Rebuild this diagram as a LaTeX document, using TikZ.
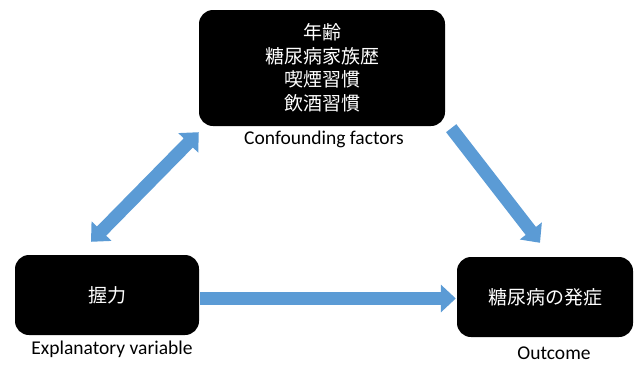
\documentclass[tikz,border=0pt]{standalone}
\usepackage{fontspec}
\setsansfont{Carlito}
\newfontfamily\jpfont{Noto Sans CJK JP}
\usetikzlibrary{arrows.meta}
\definecolor{arrowblue}{HTML}{5B9BD5}

\begin{document}
\begin{tikzpicture}[x=1pt,y=-1pt,
    box/.style={fill=black,rounded corners=14pt,text=white,align=center,inner sep=0pt,
      font=\jpfont\fontsize{19}{23.5}\selectfont},
    caption/.style={anchor=north,inner sep=0pt,font=\sffamily\fontsize{19.5}{22}\selectfont},
    fat/.style={arrowblue,line width=13pt},
    blockhead/.style={-{Triangle[length=15pt,width=27pt]}},
    twohead/.style={{Triangle[length=15pt,width=27pt]}-{Triangle[length=15pt,width=27pt]}}]
  \useasboundingbox (0,0) rectangle (634,365);

  % the three boxes
  \node[box,minimum width=246pt,minimum height=116pt] (conf) at (322,68)
    {年齢\\糖尿病家族歴\\喫煙習慣\\飲酒習慣};
  \node[box,minimum width=184pt,minimum height=80pt] (grip) at (107,295) {握力};
  \node[box,minimum width=176pt,minimum height=80pt] (onset) at (545,297) {糖尿病の発症};

  % captions under the boxes
  \node[caption] (confcap) at (324,131) {Confounding factors};
  \node[caption] (gripcap) at (112,341) {Explanatory variable};
  \node[caption] (onsetcap) at (554,347) {Outcome};

  % block arrows
  \draw[fat,blockhead] ([xshift=1pt,yshift=-3.5pt]grip.east) -- ([xshift=-1pt,yshift=-1.5pt]onset.west);
  \draw[fat,twohead] ([xshift=-16pt,yshift=13pt]grip.north) -- ([yshift=-6pt]conf.south west);
  \draw[fat,blockhead] ([xshift=6pt,yshift=-2pt]conf.south east) -- ([xshift=-5pt,yshift=14pt]onset.north);
\end{tikzpicture}
\end{document}
